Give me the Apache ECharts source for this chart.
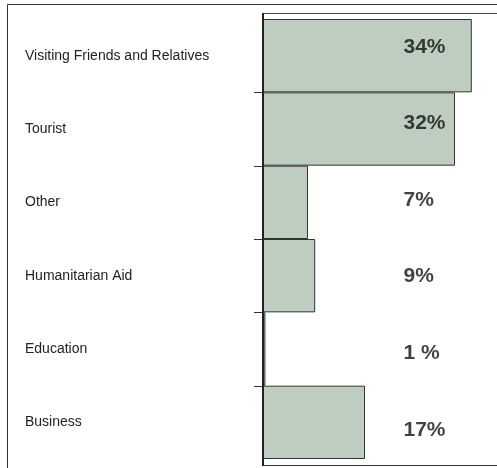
<!DOCTYPE html>
<html>
<head>
<meta charset="utf-8">
<script src="https://cdn.jsdelivr.net/npm/echarts@6/dist/echarts.min.js"></script>
<style>
html,body{margin:0;padding:0;background:#fff;}
#chart{width:497px;height:468px;}
</style>
</head>
<body>
<div id="chart"></div>
<script>
// Data
var categories = ['Visiting Friends and Relatives', 'Tourist', 'Other', 'Humanitarian Aid', 'Education', 'Business'];
var barValues = [34.8, 32.0, 7.5, 8.7, 0.4, 17.0];
var valueLabels = ['34%', '32%', '7%', '9%', '1 %', '17%'];

var FONT = '"Liberation Sans", Arial, sans-serif';
var chart = echarts.init(document.getElementById('chart'), null, {renderer: 'canvas'});

var tickData = [];
for (var i = 1; i < categories.length; i++) tickData.push([0, i]);
var labelData = valueLabels.map(function (t, i) { return [0, i]; });

chart.setOption({
  animation: false,
  backgroundColor: '#ffffff',
  grid: [
    {left: 263, top: 19, right: 0, height: 440, containLabel: false},
    {left: 403, top: 8.5, width: 60, height: 461.5, containLabel: false}
  ],
  xAxis: [
    {gridIndex: 0, type: 'value', min: 0, max: 39, show: false},
    {gridIndex: 1, type: 'value', min: 0, max: 1, show: false}
  ],
  yAxis: [
    {
      gridIndex: 0, type: 'category', inverse: true, data: categories,
      axisLine: {show: false}, axisTick: {show: false}, splitLine: {show: false},
      axisLabel: {align: 'left', margin: 238, color: '#222', fontFamily: FONT, fontSize: 14}
    },
    {gridIndex: 1, type: 'category', inverse: true, data: categories, show: false}
  ],
  graphic: [
    {type: 'line', shape: {x1: 7.5, y1: 4.5, x2: 497, y2: 4.5}, style: {stroke: '#333', lineWidth: 1}, z: 100, silent: true},
    {type: 'line', shape: {x1: 7.5, y1: 4.5, x2: 7.5, y2: 468}, style: {stroke: '#333', lineWidth: 1}, z: 100, silent: true},
    {type: 'line', shape: {x1: 263, y1: 13.5, x2: 497, y2: 13.5}, style: {stroke: '#444', lineWidth: 1}, z: 100, silent: true},
    {type: 'line', shape: {x1: 263, y1: 465.5, x2: 497, y2: 465.5}, style: {stroke: '#333', lineWidth: 1}, z: 100, silent: true},
    {type: 'line', shape: {x1: 263, y1: 13, x2: 263, y2: 466}, style: {stroke: '#222', lineWidth: 2}, z: 101, silent: true}
  ],
  series: [
    {
      type: 'bar', xAxisIndex: 0, yAxisIndex: 0, data: barValues,
      barCategoryGap: '0%',
      itemStyle: {color: '#bdcdbf', borderColor: '#333', borderWidth: 1},
      silent: true
    },
    {
      type: 'custom', xAxisIndex: 0, yAxisIndex: 0, data: tickData, clip: false,
      encode: {x: 0, y: 1}, silent: true, z: 5,
      renderItem: function (params, api) {
        var c = api.coord([0, api.value(1)]);
        var h = api.size([0, 1])[1];
        var y = Math.round(c[1] - h / 2) + 0.5;
        return {type: 'line', shape: {x1: c[0] - 9, y1: y, x2: c[0], y2: y}, style: {stroke: '#333', lineWidth: 1}};
      }
    },
    {
      type: 'scatter', xAxisIndex: 1, yAxisIndex: 1, data: labelData,
      symbolSize: 1, itemStyle: {color: 'transparent'}, silent: true,
      label: {
        show: true, position: 'right', distance: 0,
        formatter: function (p) { return valueLabels[p.dataIndex]; },
        color: '#111', fontFamily: FONT, fontSize: 21, fontWeight: 'bold'
      }
    }
  ]
});
</script>
</body>
</html>
